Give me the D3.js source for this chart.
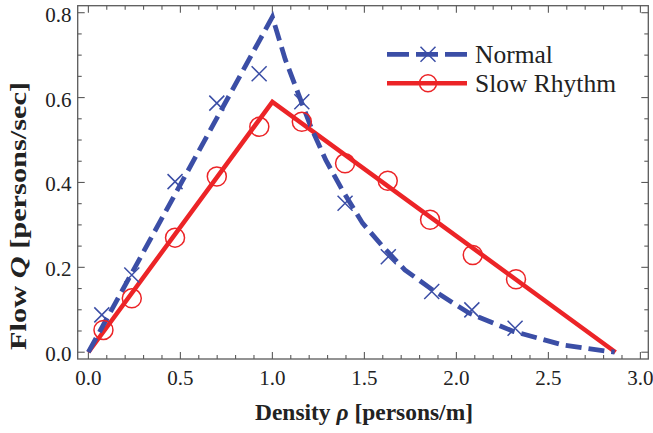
<!DOCTYPE html>
<html>
<head>
<meta charset="utf-8">
<script src="https://cdn.jsdelivr.net/npm/d3@7"></script>
<style>
  body { margin: 0; background: #fff; }
</style>
</head>
<body>
<div id="chart"></div>
<script>
// series names
const seriesNames = ["Normal", "Slow Rhythm"];

// fitted curves [density, flow]
const normalCurve = [
  [0, 0], [1.0, 0.79], [1.07, 0.69], [1.14, 0.61], [1.21, 0.53], [1.29, 0.453],
  [1.38, 0.382], [1.49, 0.304], [1.6, 0.249], [1.72, 0.194], [1.87, 0.147],
  [2.07, 0.092], [2.31, 0.049], [2.58, 0.017], [2.86, 0]
];
const slowCurve = [[0, 0], [1.0, 0.59], [2.865, 0]];

// measured points
const normalPoints = [
  [0.073, 0.088], [0.236, 0.182], [0.471, 0.402], [0.698, 0.587], [0.928, 0.656],
  [1.16, 0.590], [1.395, 0.351], [1.63, 0.225], [1.866, 0.143], [2.084, 0.0997],
  [2.319, 0.0565]
];
const slowPoints = [
  [0.082, 0.0525], [0.236, 0.127], [0.471, 0.27], [0.698, 0.414], [0.929, 0.531],
  [1.16, 0.543], [1.395, 0.445], [1.627, 0.404], [1.857, 0.312], [2.089, 0.229],
  [2.324, 0.172]
];

const xMajor = [0, 0.5, 1.0, 1.5, 2.0, 2.5, 3.0];
const yMajor = [0, 0.2, 0.4, 0.6, 0.8];

const blue = "#3b4ea6", red = "#ec2427", frameCol = "#5a5a5a", ink = "#222";
const serif = "'Liberation Serif', 'DejaVu Serif', serif";
const W = 653, H = 433;
const pl = 77.7, pr = 648.3, pt = 5.7, pb = 359;

const x = d3.scaleLinear().domain([-0.058, 3.043]).range([pl, pr]);
const y = d3.scaleLinear().domain([-0.016, 0.8165]).range([pb, pt]);

const svg = d3.select("#chart").append("svg")
  .attr("width", W).attr("height", H)
  .attr("font-family", serif);

// frame
svg.append("rect")
  .attr("x", pl).attr("y", pt)
  .attr("width", pr - pl).attr("height", pb - pt)
  .attr("fill", "none").attr("stroke", frameCol).attr("stroke-width", 1.3);

const xMinor = d3.range(0, 31).map(i => i / 10).filter(v => !xMajor.some(m => Math.abs(m - v) < 1e-9));
const yMinor = d3.range(0, 17).map(i => i / 20).filter(v => !yMajor.some(m => Math.abs(m - v) < 1e-9));

const ticks = svg.append("g").attr("stroke", frameCol).attr("stroke-width", 1.1);
function vTicks(vals, len) {
  vals.forEach(v => {
    ticks.append("line").attr("x1", x(v)).attr("x2", x(v)).attr("y1", pb).attr("y2", pb - len);
    ticks.append("line").attr("x1", x(v)).attr("x2", x(v)).attr("y1", pt).attr("y2", pt + len);
  });
}
function hTicks(vals, len) {
  vals.forEach(v => {
    ticks.append("line").attr("y1", y(v)).attr("y2", y(v)).attr("x1", pl).attr("x2", pl + len);
    ticks.append("line").attr("y1", y(v)).attr("y2", y(v)).attr("x1", pr).attr("x2", pr - len);
  });
}
vTicks(xMajor, 7); vTicks(xMinor, 4);
hTicks(yMajor, 7); hTicks(yMinor, 4);

// tick labels
svg.append("g").selectAll("text").data(xMajor).join("text")
  .attr("x", d => x(d)).attr("y", 385).attr("fill", ink)
  .attr("text-anchor", "middle").attr("font-size", 21)
  .text(d => d3.format(".1f")(d));
svg.append("g").selectAll("text").data(yMajor).join("text")
  .attr("x", 71.5).attr("y", d => y(d) + 9).attr("fill", ink)
  .attr("text-anchor", "end").attr("font-size", 21)
  .text(d => d3.format(".1f")(d));

// axis titles
const xt = svg.append("text")
  .attr("x", 364).attr("y", 420).attr("text-anchor", "middle").attr("fill", ink)
  .attr("font-size", 23).attr("font-weight", "bold")
  .attr("textLength", 218).attr("lengthAdjust", "spacingAndGlyphs");
xt.append("tspan").text("Density ");
xt.append("tspan").attr("font-style", "italic").text("ρ");
xt.append("tspan").text(" [persons/m]");

const yt = svg.append("text")
  .attr("transform", "translate(26,216) rotate(-90)").attr("text-anchor", "middle").attr("fill", ink)
  .attr("font-size", 23).attr("font-weight", "bold")
  .attr("textLength", 268).attr("lengthAdjust", "spacingAndGlyphs");
yt.append("tspan").text("Flow ");
yt.append("tspan").attr("font-style", "italic").text("Q");
yt.append("tspan").text(" [persons/sec]");

const line = d3.line().x(d => x(d[0])).y(d => y(d[1]));

// curves
svg.append("path").attr("d", line(slowCurve))
  .attr("fill", "none").attr("stroke", red).attr("stroke-width", 4.5)
  .attr("stroke-linejoin", "miter");
svg.append("path").attr("d", line(normalCurve))
  .attr("fill", "none").attr("stroke", blue).attr("stroke-width", 4.8)
  .attr("stroke-dasharray", "16,7");

// markers
const xs = 7.5;
function cross(g, cx, cy) {
  g.append("path")
    .attr("d", `M${cx - xs},${cy - xs}L${cx + xs},${cy + xs}M${cx - xs},${cy + xs}L${cx + xs},${cy - xs}`)
    .attr("stroke", blue).attr("stroke-width", 1.5).attr("fill", "none");
}
const mk = svg.append("g");
normalPoints.forEach(d => cross(mk, x(d[0]), y(d[1])));
mk.selectAll("circle").data(slowPoints).join("circle")
  .attr("cx", d => x(d[0])).attr("cy", d => y(d[1])).attr("r", 9.5)
  .attr("fill", "none").attr("stroke", red).attr("stroke-width", 1.5);

// legend
const lg = svg.append("g");
const lx0 = 387, lx1 = 467, lxm = 428, ly = [54.3, 83.3];
lg.append("line").attr("x1", lx0).attr("x2", lx1).attr("y1", ly[0]).attr("y2", ly[0])
  .attr("stroke", blue).attr("stroke-width", 4.8).attr("stroke-dasharray", "22,7");
cross(lg, lxm, ly[0]);
lg.append("line").attr("x1", lx0).attr("x2", lx1).attr("y1", ly[1]).attr("y2", ly[1])
  .attr("stroke", red).attr("stroke-width", 4.5);
lg.append("circle").attr("cx", lxm).attr("cy", ly[1]).attr("r", 8.5)
  .attr("fill", "none").attr("stroke", red).attr("stroke-width", 1.5);
lg.selectAll("text").data(seriesNames).join("text")
  .attr("x", 475).attr("y", (d, i) => ly[i] + 9).attr("fill", ink)
  .attr("font-size", 25.5).text(d => d);
</script>
</body>
</html>
